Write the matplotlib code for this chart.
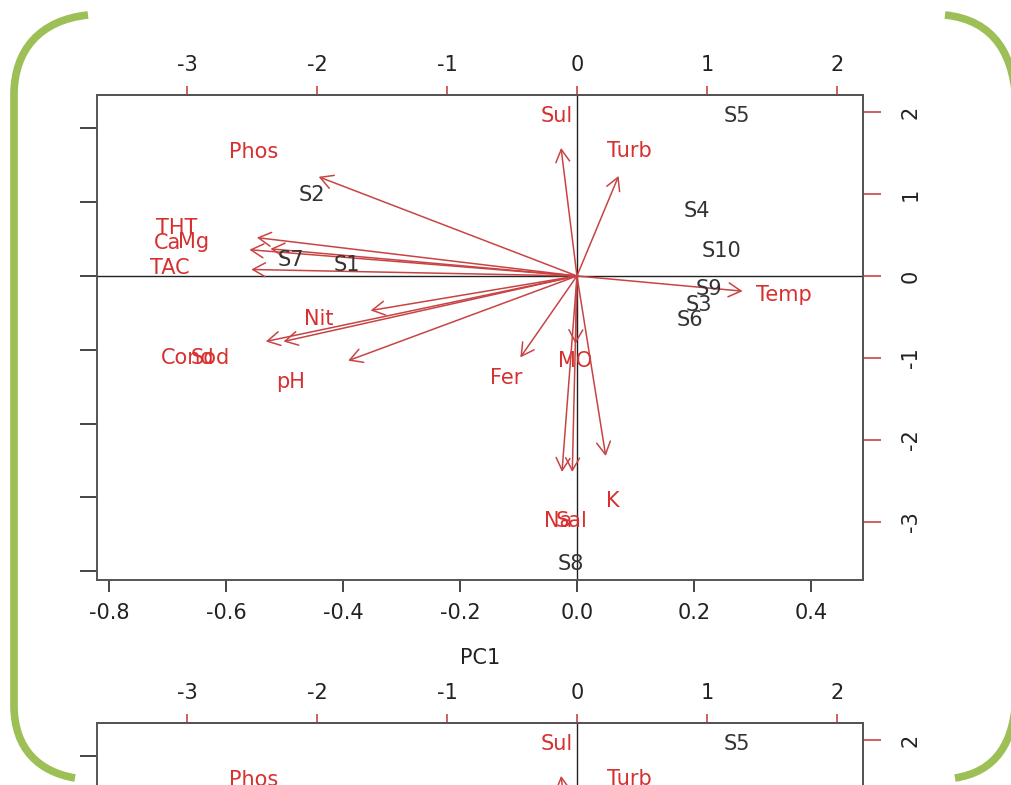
import matplotlib
matplotlib.use('Agg')
import matplotlib.pyplot as plt
from matplotlib.path import Path
from matplotlib.patches import PathPatch

plt.rcParams['font.family'] = ['DejaVu Sans']
plt.rcParams['axes.unicode_minus'] = False

# variable loadings (label positions, PC1/PC2)
var_names = ['Sul', 'Turb', 'Phos', 'THT', 'Ca', 'Mg', 'TAC', 'Nit', 'Cond', 'Sod',
             'pH', 'Fer', 'MO', 'Na', 'Sal', 'K', 'Temp']
load_x = [-0.034, 0.089, -0.552, -0.684, -0.700, -0.655, -0.696, -0.441, -0.665, -0.627,
          -0.489, -0.121, -0.003, -0.032, -0.010, 0.0615, 0.354]
load_y = [0.434, 0.339, 0.336, 0.130, 0.089, 0.092, 0.022, -0.117, -0.222, -0.222,
          -0.287, -0.276, -0.230, -0.664, -0.664, -0.610, -0.0515]

# sample scores
samp_names = ['S1', 'S2', 'S3', 'S4', 'S5', 'S6', 'S7', 'S8', 'S9', 'S10']
score_x = [-1.77, -2.04, 0.94, 0.92, 1.23, 0.87, -2.20, -0.046, 1.015, 1.11]
score_y = [0.134, 0.99, -0.35, 0.79, 1.95, -0.54, 0.195, -3.51, -0.16, 0.30]

scale = 4.5  # score units per loading unit
pc1_ticks = [-0.8, -0.6, -0.4, -0.2, 0.0, 0.2, 0.4]
pc2_ticks = [-0.8, -0.6, -0.4, -0.2, 0.0, 0.2, 0.4]
score_ticks = [-3, -2, -1, 0, 1, 2]

W, H = 1012, 785
fig = plt.figure(figsize=(W / 100, H / 100), dpi=100)

red_line = '#c84444'
red_text = '#d63030'
dark = '#333333'
fs = 15


def draw_biplot(top_px):
    left, right, bot_px = 97, 863, top_px + 485
    ax = fig.add_axes([left / W, 1 - bot_px / H, (right - left) / W, 485 / H])
    ax.set_xlim(-0.8205, 0.489)
    ax.set_ylim(-0.824, 0.4905)
    for s in ax.spines.values():
        s.set_color('#555555')
        s.set_linewidth(1.4)
    ax.axhline(0, color='#222222', lw=1)
    ax.axvline(0, color='#222222', lw=1)

    ax.set_xticks(pc1_ticks)
    ax.set_xticklabels(['%.1f' % t for t in pc1_ticks])
    ax.set_yticks(pc2_ticks)
    ax.tick_params(axis='x', length=8.6, width=1.4, color='#444444', pad=8,
                   labelsize=fs, labelcolor='#222222')
    ax.tick_params(axis='y', length=12, width=1.4, color='#444444', labelleft=False)
    ax.set_xlabel('PC1', fontsize=fs, color='#222222', labelpad=18)

    top = ax.secondary_xaxis('top', functions=(lambda v: v * scale, lambda v: v / scale))
    top.set_xticks(score_ticks)
    top.tick_params(length=6.5, width=1.2, color=red_line, pad=8, labelsize=fs,
                    labelcolor='#222222')
    right_ax = ax.secondary_yaxis('right', functions=(lambda v: v * scale, lambda v: v / scale))
    right_ax.set_yticks(score_ticks)
    right_ax.tick_params(length=13, width=1.2, color=red_line, pad=14, labelsize=fs,
                         labelcolor='#222222', labelrotation=90)
    for lab in right_ax.get_yticklabels():
        lab.set_va('center')
    for sa in (top, right_ax):
        for s in sa.spines.values():
            s.set_color('#555555')
            s.set_linewidth(1.4)

    for n, x, y in zip(var_names, load_x, load_y):
        ax.annotate('', xy=(0.8 * x, 0.8 * y), xytext=(0, 0),
                    arrowprops=dict(arrowstyle='->,head_length=0.45,head_width=0.25',
                                    color=red_line, lw=1.1, shrinkA=0, shrinkB=0,
                                    mutation_scale=20))
        ax.text(x, y, n, color=red_text, fontsize=fs, ha='center', va='center')

    for n, x, y in zip(samp_names, score_x, score_y):
        ax.text(x / scale, y / scale, n, color=dark, fontsize=fs, ha='center', va='center')
    return ax


draw_biplot(95)
draw_biplot(723)

# green bracket frame
green = '#9cc056'


def px(x, y):
    return (x / W, 1 - y / H)


C4 = Path.CURVE4
lpath = Path([px(88, 15), px(40, 20), px(14, 50), px(14, 95),
              px(14, 705), px(14, 750), px(40, 772), px(75, 778)],
             [Path.MOVETO, C4, C4, C4, Path.LINETO, C4, C4, C4])
rtop = Path([px(945, 15), px(994, 20), px(1016, 55), px(1016, 110), px(1016, 200)],
            [Path.MOVETO, C4, C4, C4, Path.LINETO])
rbot = Path([px(1016, 600), px(1016, 690), px(1016, 745), px(994, 772), px(955, 778)],
            [Path.MOVETO, Path.LINETO, C4, C4, C4])
for p in (lpath, rtop, rbot):
    fig.patches.append(PathPatch(p, transform=fig.transFigure, fill=False,
                                 edgecolor=green, lw=5.5, capstyle='butt'))

fig.savefig('out.png', dpi=100)
